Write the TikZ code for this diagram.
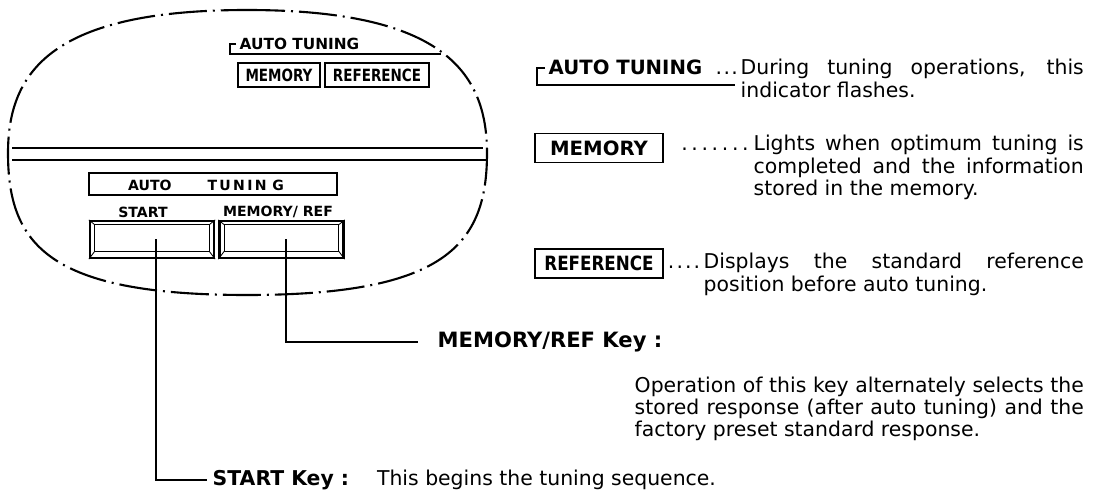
\documentclass[tikz,border=0pt]{standalone}
\usepackage{fontspec}
\setmainfont{DejaVu Sans}
\usepackage{graphicx}
\usetikzlibrary{calc}
\usetikzlibrary{positioning}
\newcommand{\narrowtxt}[2][0.8]{\scalebox{#1}[1]{#2}}
\newcommand{\dotrow}[2]{\foreach \i in {1,...,#1}{.\kern#2}}
\tikzset{every picture/.style={line width=1pt},
panel/.style={line width=1.5pt,dash pattern=on 0.95cm off 0.15cm on 0.05cm off 0.15cm},
lamp/.style={draw,line width=1.2pt,inner sep=0pt},
keybox/.style={draw,line width=1.6pt,minimum width=3.1cm,minimum height=0.925cm,inner sep=0pt},
tag/.style={inner sep=0pt,font=\bfseries\fontsize{10}{12}\selectfont},
body/.style={inner sep=0pt,font=\fontsize{14.5}{15.8}\selectfont},
desc/.style={body,anchor=base west,align=justify}}
\begin{document}
\begin{tikzpicture}[x=0.025cm,y=-0.025cm]
\useasboundingbox (0,0) rectangle (1099,492);
\draw[panel] (247,10) .. controls (440,10) and (487,70) .. (487,153) .. controls (487,245) and (445,295) .. (247,295) .. controls (49,295) and (8,245) .. (8,153) .. controls (8,70) and (54,10) .. cycle;
\draw[line width=0.8pt] (12,148) -- (483,148);
\draw[line width=1.6pt] (12,160) -- (487,160);
\node[tag,font=\bfseries\fontsize{10.9}{13}\selectfont,anchor=west] (ind) at (239,44) {AUTO TUNING};
\draw[line width=1.1pt] (236,44) -- (230,44) -- (230,54) -- (441,54);
\node[lamp,minimum width=2.05cm,minimum height=0.6cm,font=\bfseries\fontsize{12}{14}\selectfont] (lmem) at (279,75) {\narrowtxt{MEMORY}};
\node[lamp,minimum width=2.6cm,minimum height=0.6cm,font=\bfseries\fontsize{12}{14}\selectfont] (lref) at (377,75) {\narrowtxt{REFERENCE}};
\node[lamp,minimum width=6.2cm,minimum height=0.55cm] (atbox) at (213,184) {};
\node[tag] (attxt) at (206,185) {AUTO\hspace{0.9cm}T\,U\,N\,I\,N\hspace{4pt}G};
\node[tag] (slbl) at (143,212) {START};
\node[tag] (mlbl) at (278,212) {MEMORY/ REF};
\foreach \k/\x in {startkey/152,memkey/281.5} {
\node[keybox] (\k) at (\x,239.5) {};
\draw[line width=0.6pt] ($(\k.north west)+(6,5)$) rectangle ($(\k.south east)+(-6,-8)$);
\draw[line width=0.6pt] (\k.north west) -- +(6,5) (\k.north east) -- +(-6,5) (\k.south west) -- +(6,-8) (\k.south east) -- +(-6,-8);
}
\node[body,anchor=west,inner xsep=0.125cm] (startlbl) at (207,480) {\textbf{START Key :}\hspace{0.7cm}This begins the tuning sequence.};
\node[body,anchor=west,inner xsep=0.475cm,font=\bfseries\fontsize{15}{18}\selectfont] (memlbl) at (418,342) {MEMORY/REF Key :};
\draw ($(startkey.center)+(4,0)$) |- (startlbl.west);
\draw ($(memkey.center)+(4.5,0)$) |- (memlbl.west);
\node[anchor=base west,inner sep=0pt,font=\bfseries\fontsize{14}{17}\selectfont] (autolbl) at (548,75) {AUTO TUNING};
\draw[line width=1.1pt] (545,68) -- (537,68) -- (537,85) -- (735,85);
\node[desc,text width=8.575cm] (autodesc) at (740,75) {During tuning operations, this\linebreak indicator flashes.};
\node[body,anchor=base east] (autodots) at (autodesc.base west) {\dotrow{3}{1pt}};
\node[lamp,minimum width=3.2cm,minimum height=0.725cm,font=\bfseries\fontsize{14}{17}\selectfont] (rmem) at (599,148) {MEMORY};
\node[desc,text width=8.25cm] (memdesc) at (753,151) {Lights when optimum tuning is\linebreak completed and the information\linebreak stored in the memory.};
\node[body,anchor=base east] (memdots) at (memdesc.base west) {\dotrow{7}{2.6pt}};
\node[lamp,minimum width=3.2cm,minimum height=0.725cm,font=\bfseries\fontsize{14}{17}\selectfont] (rref) at (599,263.5) {\narrowtxt[0.85]{REFERENCE}};
\node[desc,text width=9.5cm] (refdesc) at (703,269) {Displays the standard reference\linebreak position before auto tuning.};
\node[body,anchor=base east] (refdots) at (refdesc.base west) {\dotrow{4}{1.5pt}};
\node[desc,text width=11.225cm] (opdesc) at (634,392) {Operation of this key alternately selects the\linebreak stored response (after auto tuning) and the\linebreak factory preset standard response.};
\end{tikzpicture}
\end{document}
